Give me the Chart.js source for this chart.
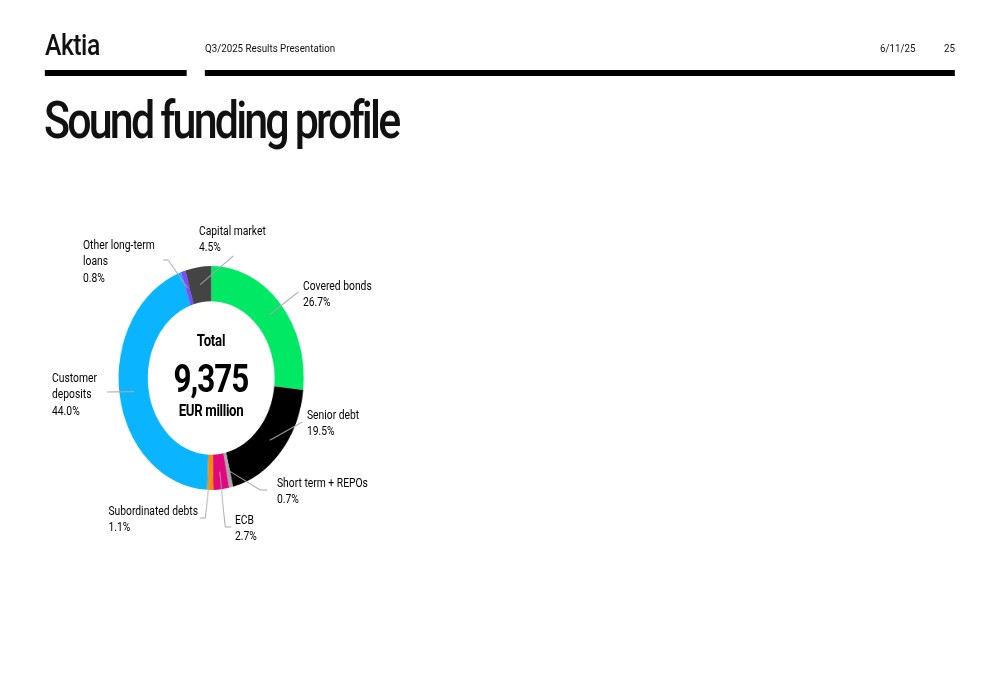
<!DOCTYPE html>
<html>
<head>
<meta charset="utf-8">
<script src="https://cdn.jsdelivr.net/npm/chart.js@4.4.1/dist/chart.umd.min.js"></script>
<style>
  html, body { margin: 0; padding: 0; background: #fff; overflow: hidden; }
  body { width: 1000px; height: 685px; position: relative; }
  #wrap { position: absolute; left: 0; top: 0; height: 685px; transform-origin: 0 0; font-family: Roboto, "Liberation Sans", sans-serif; color: #111; }
  #chartBox { position: absolute; left: 0; top: 0; height: 685px; }
  .t { position: absolute; white-space: nowrap; }
  .bar { position: absolute; background: #000; }
  .lbl { position: absolute; white-space: nowrap; font-size: 12.5px; line-height: 16.5px; color: #000; }
  .ctr { position: absolute; text-align: center; font-weight: 700; color: #000; white-space: nowrap; }
</style>
</head>
<body>
<div id="wrap">
  <div id="chartBox"><canvas id="c"></canvas></div>
</div>
<script>
// ---- data ----
const categories = ['Covered bonds', 'Senior debt', 'Short term + REPOs', 'ECB', 'Subordinated debts', 'Customer deposits', 'Other long-term loans', 'Capital market'];
const shares = [26.7, 19.5, 0.7, 2.7, 1.1, 44.0, 0.8, 4.5];
const labelLines = [['Covered bonds'], ['Senior debt'], ['Short term + REPOs'], ['ECB'], ['Subordinated debts'], ['Customer', 'deposits'], ['Other long-term', 'loans'], ['Capital market']];
const totalTitle = 'Total';
const totalValue = '9,375';
const totalUnit = 'EUR million';
const headerTitle = 'Q3/2025 Results Presentation';
const headerDate = '6/11/25';
const pageNumber = '25';
const slideTitle = 'Sound funding profile';

// ---- styles / layout ----
const colors = ['#00E864', '#000000', '#A9A9A9', '#E1087F', '#FF8A00', '#0AB4FF', '#7A4CFF', '#444444'];
const S = 0.826;               // horizontal squeeze of the slide
const W = 1000 / S;
const cx = 211 / S, cy = 378, R = 112;
// label layout in page pixels: x,y = left (or right) edge & centre of first line; leader = points after arc
const labelLayout = [
  { x: 303, y: 286, align: 'left',  leader: [[298, 292]] },
  { x: 307, y: 415, align: 'left',  leader: [[302, 422]] },
  { x: 277, y: 483, align: 'left',  leader: [[260, 490], [267, 490]] },
  { x: 235, y: 520, align: 'left',  leader: [[225, 527], [231, 527]] },
  { x: 198, y: 511, align: 'right', leader: [[205, 518], [200, 518]] },
  { x: 52,  y: 378, align: 'left',  leader: [[107, 392]] },
  { x: 83,  y: 245, align: 'left',  leader: [[168, 260], [163, 260]] },
  { x: 199, y: 231, align: 'left',  leader: [[233, 256]] }
];

const wrap = document.getElementById('wrap');
wrap.style.width = W + 'px';
wrap.style.transform = 'scaleX(' + S + ')';
document.getElementById('chartBox').style.width = W + 'px';

function addText(txt, x, y, css, cls) {
  const d = document.createElement('div');
  d.className = cls || 't';
  d.textContent = txt;
  d.style.left = (x / S) + 'px';
  d.style.top = y + 'px';
  Object.assign(d.style, css || {});
  wrap.appendChild(d);
  return d;
}
function addBar(x1, x2, y, h) {
  const d = document.createElement('div');
  d.className = 'bar';
  d.style.left = (x1 / S) + 'px';
  d.style.width = ((x2 - x1) / S) + 'px';
  d.style.top = y + 'px';
  d.style.height = h + 'px';
  wrap.appendChild(d);
}

// header
addText('Aktia', 45, 29, { fontSize: '30px', fontWeight: '500', lineHeight: '31px', letterSpacing: '-0.6px' });
addText(headerTitle, 205, 40, { fontSize: '11.8px', lineHeight: '16px' });
addText(headerDate, 880, 40, { fontSize: '11.8px', lineHeight: '16px' });
addText(pageNumber, 944, 40, { fontSize: '11.8px', lineHeight: '16px' });
addBar(45, 187, 70, 5.5);
addBar(205, 955, 70, 5.5);
// title
addText(slideTitle, 44, 95, { fontSize: '52px', fontWeight: '500', lineHeight: '52px', letterSpacing: '-3.4px' });

// centre text
function addCentre(txt, y, size, ls) {
  const d = document.createElement('div');
  d.className = 'ctr';
  d.textContent = txt;
  d.style.left = (cx - 150) + 'px';
  d.style.width = '300px';
  d.style.top = (y - size / 2) + 'px';
  d.style.fontSize = size + 'px';
  d.style.lineHeight = size + 'px';
  d.style.letterSpacing = ls + 'px';
  wrap.appendChild(d);
}
addCentre(totalTitle, 341, 16, -0.3);
addCentre(totalValue, 379, 38, -1.2);
addCentre(totalUnit, 411, 16, -0.4);

// labels
labelLines.forEach((lines, i) => {
  const L = labelLayout[i];
  const d = document.createElement('div');
  d.className = 'lbl';
  d.innerHTML = lines.concat([shares[i].toFixed(1) + '%']).join('<br>');
  d.style.top = (L.y - 8.25) + 'px';
  if (L.align === 'right') {
    d.style.right = (W - L.x / S) + 'px';
    d.style.textAlign = 'left';
  } else {
    d.style.left = (L.x / S) + 'px';
  }
  wrap.appendChild(d);
});

const leaderPlugin = {
  id: 'leaders',
  afterDatasetsDraw(chart) {
    const ctx = chart.ctx;
    const meta = chart.getDatasetMeta(0);
    ctx.save();
    ctx.strokeStyle = '#A8A8A8';
    ctx.lineWidth = 1.1;
    meta.data.forEach((arc, i) => {
      const p = arc.getProps(['x', 'y', 'startAngle', 'endAngle', 'innerRadius', 'outerRadius'], true);
      const mid = (p.startAngle + p.endAngle) / 2;
      const r = (p.innerRadius + p.outerRadius) / 2;
      ctx.beginPath();
      ctx.moveTo(p.x + Math.cos(mid) * r, p.y + Math.sin(mid) * r);
      labelLayout[i].leader.forEach(pt => ctx.lineTo(pt[0] / S, pt[1]));
      ctx.stroke();
    });
    ctx.restore();
  }
};

new Chart(document.getElementById('c'), {
  type: 'doughnut',
  data: {
    labels: categories,
    datasets: [{ data: shares, backgroundColor: colors, borderWidth: 0, hoverOffset: 0 }]
  },
  options: {
    responsive: true,
    maintainAspectRatio: false,
    animation: false,
    events: [],
    cutout: '68.5%',
    rotation: 0,
    layout: { padding: { left: cx - R, top: cy - R, right: W - (cx + R), bottom: 685 - (cy + R) } },
    plugins: { legend: { display: false }, tooltip: { enabled: false } }
  },
  plugins: [leaderPlugin]
});
</script>
</body>
</html>
